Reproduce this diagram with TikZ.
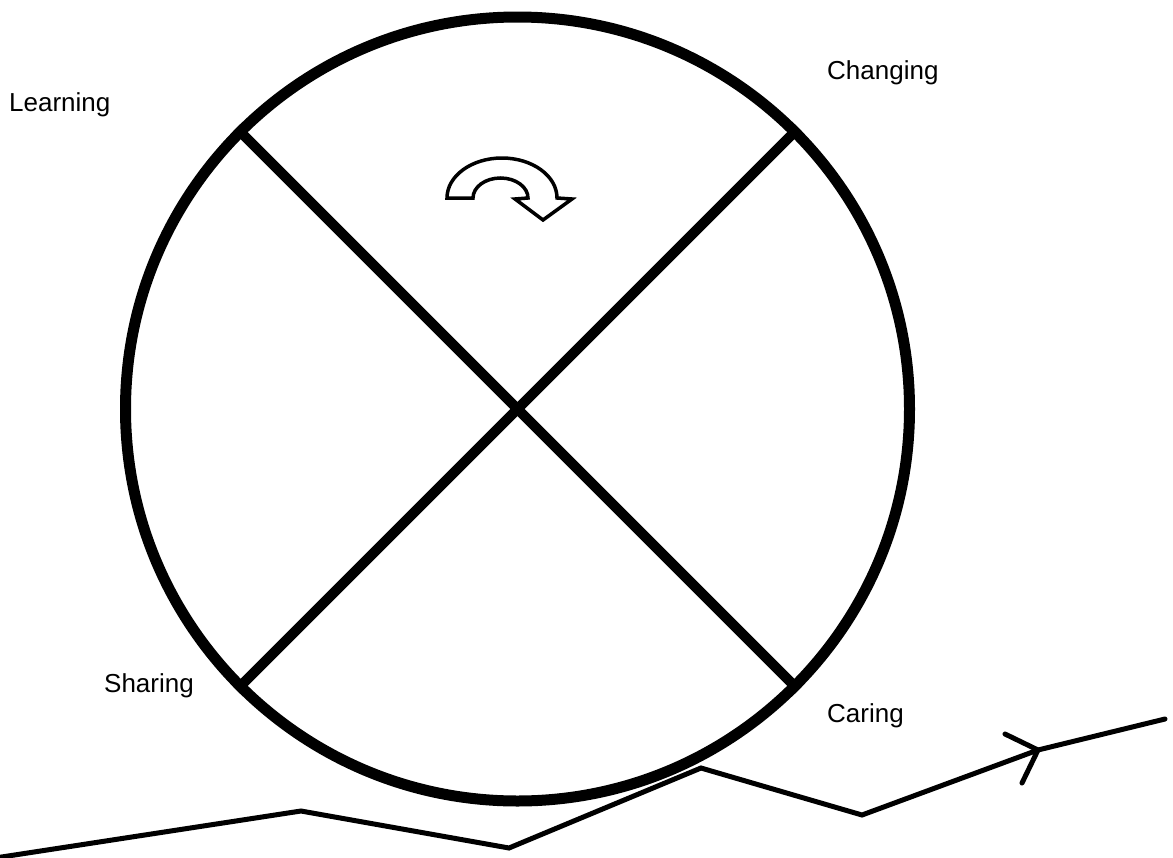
\documentclass[tikz,border=0pt]{standalone}
\usepackage{fontspec}
\setmainfont{Liberation Sans}
\begin{document}
\begin{tikzpicture}[x=1pt,y=-1pt,
  thick line/.style={line width=11pt},
  track/.style={line width=5pt, line join=miter, line cap=round},
  label/.style={anchor=west, inner sep=0pt, font=\fontsize{26}{31}\selectfont},
  turn/.style={line width=3.5pt, line join=miter}]
\useasboundingbox (0,0) rectangle (1173,857);
% wheel
\node[circle, draw, thick line, minimum size=784pt, inner sep=0pt] (wheel) at (517.5,409) {};
\draw[line width=10pt] (wheel.45) -- (wheel.225);
\draw[line width=10pt] (wheel.135) -- (wheel.315);
% labels
\node[label] (learning) at (9,105) {Learning};
\node[label] (changing) at (827,73) {Changing};
\node[label] (sharing) at (104,686) {Sharing};
\node[label] (caring) at (827,716) {Caring};
% rotation arrow
\draw[turn] (447,198) -- (473,198) arc[start angle=180, end angle=0, x radius=27.5, y radius=-20]
  -- (515,199) -- (543,220) -- (572,199) -- (557,198)
  arc[start angle=0, end angle=180, x radius=55, y radius=-40] -- cycle;
% track
\coordinate (t0) at (-5,858);
\coordinate (t1) at (301,811);
\coordinate (t2) at (509,848);
\coordinate (t3) at (701,768);
\coordinate (t4) at (862,815);
\coordinate (t5) at (1038,750);
\coordinate (t6) at (1165,719);
\coordinate (b1) at (1005,734);
\coordinate (b2) at (1022,783);
\draw[track] (t0) -- (t1) -- (t2) -- (t3) -- (t4) -- (t5) -- (t6);
\draw[track] (b1) -- (t5) -- (b2);
\end{tikzpicture}
\end{document}
